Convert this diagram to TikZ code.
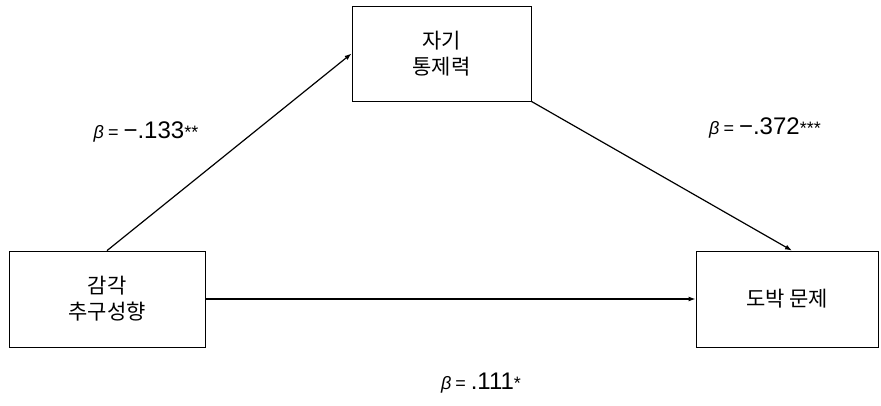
\documentclass[tikz,border=0pt]{standalone}
\usepackage{fontspec}
\usepackage{tikz}
\usetikzlibrary{arrows.meta}
\setmainfont{Noto Sans CJK KR}
\newfontfamily\coeffont{Liberation Sans}
\newcommand{\bcoef}[2]{{\coeffont{\fontsize{18}{18}\selectfont\itshape β}\hspace{4pt}{\fontsize{18}{18}\selectfont =}\hspace{5pt}{\fontsize{24}{24}\selectfont #1}{\fontsize{18}{16}\selectfont #2}}}

\begin{document}
\begin{tikzpicture}[x=1pt, y=-1pt,
    box/.style = {draw, line width=0.8pt, align=center, font=\fontsize{21}{26}\selectfont, inner sep=0pt},
    path/.style = {line width=1.2pt, -{Latex[length=7pt, width=5pt]}}]
    \useasboundingbox (0,0) rectangle (881,405);

    \node[box, minimum width=179pt, minimum height=95pt] (S) at (441.5,53.5) {자기\\통제력};
    \node[box, minimum width=196pt, minimum height=96pt] (X) at (107,299) {감각\\추구성향};
    \node[box, minimum width=182pt, minimum height=96pt] (Y) at (787,299) {도박 문제};

    \draw[path] (X.north) -- (S.west);
    \draw[path] (S.south east) -- ([xshift=5pt]Y.north);
    \draw[path, line width=2pt] (X.east) -- (Y.west);

    \node (a) at (146,132) {\bcoef{−.133}{**}};
    \node (b) at (765,128) {\bcoef{−.372}{***}};
    \node (c) at (481,383) {\bcoef{.111}{*}};
\end{tikzpicture}
\end{document}
